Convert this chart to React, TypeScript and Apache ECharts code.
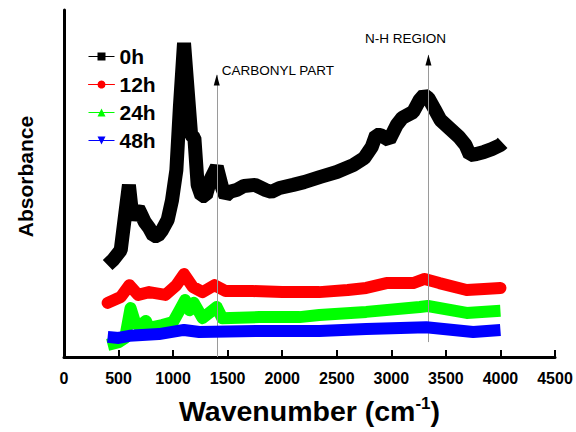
import React, { useEffect, useRef } from "react";
import * as echarts from "echarts";

// Wavenumber (cm-1) and absorbance (arbitrary units)
const wn0h = [400, 450, 520, 560, 595, 630, 650, 680, 710, 740, 780, 820, 860, 900, 950, 990, 1030, 1062, 1100, 1140, 1165, 1195, 1225, 1260, 1300, 1340, 1400, 1450, 1480, 1520, 1580, 1650, 1750, 1850, 1900, 1975, 2100, 2200, 2350, 2500, 2650, 2750, 2820, 2860, 2900, 2980, 3050, 3100, 3200, 3260, 3300, 3340, 3400, 3450, 3530, 3620, 3680, 3720, 3780, 3850, 3920, 4000, 4020];
const abs0h = [0.265, 0.280, 0.308, 0.409, 0.496, 0.395, 0.418, 0.429, 0.409, 0.389, 0.372, 0.349, 0.349, 0.366, 0.395, 0.452, 0.539, 0.720, 0.905, 0.741, 0.640, 0.631, 0.496, 0.464, 0.464, 0.510, 0.548, 0.487, 0.464, 0.476, 0.481, 0.493, 0.496, 0.481, 0.476, 0.487, 0.496, 0.504, 0.519, 0.533, 0.553, 0.573, 0.605, 0.640, 0.640, 0.625, 0.669, 0.689, 0.706, 0.741, 0.755, 0.746, 0.712, 0.683, 0.660, 0.634, 0.611, 0.582, 0.585, 0.591, 0.599, 0.611, 0.617];

const wn12h = [400, 520, 600, 680, 780, 930, 1030, 1100, 1180, 1270, 1380, 1480, 1730, 2000, 2340, 2600, 2770, 2955, 3200, 3305, 3440, 3690, 3850, 4000];
const abs12h = [0.156, 0.173, 0.207, 0.179, 0.187, 0.179, 0.207, 0.239, 0.202, 0.187, 0.207, 0.190, 0.190, 0.187, 0.187, 0.193, 0.199, 0.213, 0.213, 0.225, 0.213, 0.193, 0.196, 0.199];

const wn24h = [400, 500, 560, 610, 650, 690, 750, 780, 900, 1000, 1060, 1110, 1150, 1190, 1270, 1400, 1450, 1790, 2158, 2340, 2770, 3260, 3335, 3690, 4000];
const abs24h = [0.035, 0.043, 0.055, 0.141, 0.101, 0.089, 0.104, 0.084, 0.092, 0.101, 0.135, 0.164, 0.135, 0.156, 0.112, 0.144, 0.112, 0.115, 0.115, 0.121, 0.130, 0.144, 0.147, 0.127, 0.133];

const wn48h = [400, 500, 600, 870, 1100, 1240, 1790, 2340, 2770, 3320, 3750, 4000];
const abs48h = [0.058, 0.055, 0.061, 0.066, 0.078, 0.072, 0.075, 0.075, 0.081, 0.086, 0.072, 0.078];

const seriesNames = ["0h", "12h", "24h", "48h"];
const seriesColors = ["#000000", "#ff0000", "#00ff00", "#0000ff"];
const xTicks = [0, 500, 1000, 1500, 2000, 2500, 3000, 3500, 4000, 4500];

// annotation positions (data coordinates)
const carbonylWn = 1400;
const carbonylTop = 0.813;
const nhWn = 3340;
const nhTop = 0.870;
const nhBottom = 0.043;

const FONT = "'Liberation Sans', Arial, sans-serif";

const pairs = (xs: number[], ys: number[]) => xs.map((x, i) => [x, ys[i]]);

export default function App() {
  const ref = useRef<HTMLDivElement>(null);
  useEffect(() => {
    document.body.style.margin = "0";
    const chart = echarts.init(ref.current!, null, { renderer: "svg" });
    const lineData = [pairs(wn0h, abs0h), pairs(wn12h, abs12h), pairs(wn24h, abs24h), pairs(wn48h, abs48h)];
    const symbols = ["rect", "circle", "triangle", "triangle"];
    const widths = [14, 12, 12, 12];
    const joins = ["bevel", "round", "round", "round"];
    const series: any[] = lineData.map((d, i) => ({
      type: "line",
      name: seriesNames[i],
      data: d,
      symbol: symbols[i],
      symbolRotate: i === 3 ? 180 : 0,
      showSymbol: false,
      color: seriesColors[i],
      lineStyle: { width: widths[i], color: seriesColors[i], cap: i === 1 ? "round" : "butt", join: joins[i] },
      z: 2 + i,
    }));
    series[3].markLine = {
      silent: true,
      symbol: ["none", "none"],
      label: { show: false },
      lineStyle: { color: "#9a9a9a", width: 1, type: "solid" },
      data: [
        [{ coord: [carbonylWn, 0] }, { coord: [carbonylWn, carbonylTop] }],
        [{ coord: [nhWn, nhBottom] }, { coord: [nhWn, nhTop] }],
      ],
    };
    series[3].markPoint = {
      silent: true,
      data: [
        {
          coord: [carbonylWn, carbonylTop],
          symbol: "triangle",
          symbolSize: [6, 11],
          symbolOffset: [0, 5],
          itemStyle: { color: "#000" },
          label: {
            show: true,
            formatter: "CARBONYL PART",
            position: "right",
            offset: [-3, -9],
            color: "#000",
            fontSize: 13.5,
            fontFamily: FONT,
          },
        },
        {
          coord: [nhWn, nhTop],
          symbol: "triangle",
          symbolSize: [6, 11],
          symbolOffset: [0, 5],
          itemStyle: { color: "#000" },
          label: {
            show: true,
            formatter: "N-H REGION",
            position: "top",
            offset: [-23, -4],
            color: "#000",
            fontSize: 13.5,
            fontFamily: FONT,
          },
        },
      ],
    };
    chart.setOption({
      animation: false,
      backgroundColor: "#fff",
      grid: { left: 64, right: 21, top: 10, bottom: 75, containLabel: false },
      legend: {
        orient: "vertical",
        left: 88,
        top: 46,
        padding: 0,
        itemGap: 7,
        itemWidth: 26,
        itemHeight: 10,
        data: seriesNames,
        lineStyle: { width: 1 },
        textStyle: { fontSize: 21, fontWeight: "bold", color: "#000", fontFamily: FONT },
      },
      xAxis: {
        type: "value",
        min: 0,
        max: 4500,
        interval: 500,
        axisLine: { show: true, lineStyle: { color: "#000", width: 3 } },
        axisTick: { show: true, inside: true, length: 7, lineStyle: { color: "#000", width: 2 } },
        splitLine: { show: false },
        axisLabel: {
          fontSize: 16,
          fontWeight: "bold",
          color: "#000",
          fontFamily: FONT,
          margin: 13,
          formatter: (v: number) => (xTicks.includes(v) ? String(v) : ""),
        },
        name: "{a|Wavenumber (cm}{s|-1}{a|)}",
        nameLocation: "middle",
        nameGap: 38,
        nameTextStyle: {
          rich: {
            a: { fontSize: 28.5, fontWeight: "bold", color: "#000", fontFamily: FONT },
            s: { fontSize: 17, fontWeight: "bold", color: "#000", fontFamily: FONT, padding: [0, 0, 14, 0] },
          },
        },
      },
      yAxis: {
        type: "value",
        min: 0,
        max: 1,
        axisLine: { show: true, lineStyle: { color: "#000", width: 3 } },
        axisTick: { show: false },
        axisLabel: { show: false },
        splitLine: { show: false },
        name: "Absorbance",
        nameLocation: "middle",
        nameGap: 28,
        nameTextStyle: { fontSize: 21, fontWeight: "bold", color: "#000", fontFamily: FONT, padding: [0, 0, 0, 14] },
      },
      series,
    });
    return () => chart.dispose();
  }, []);
  return <div ref={ref} style={{ width: 576, height: 432 }} />;
}
